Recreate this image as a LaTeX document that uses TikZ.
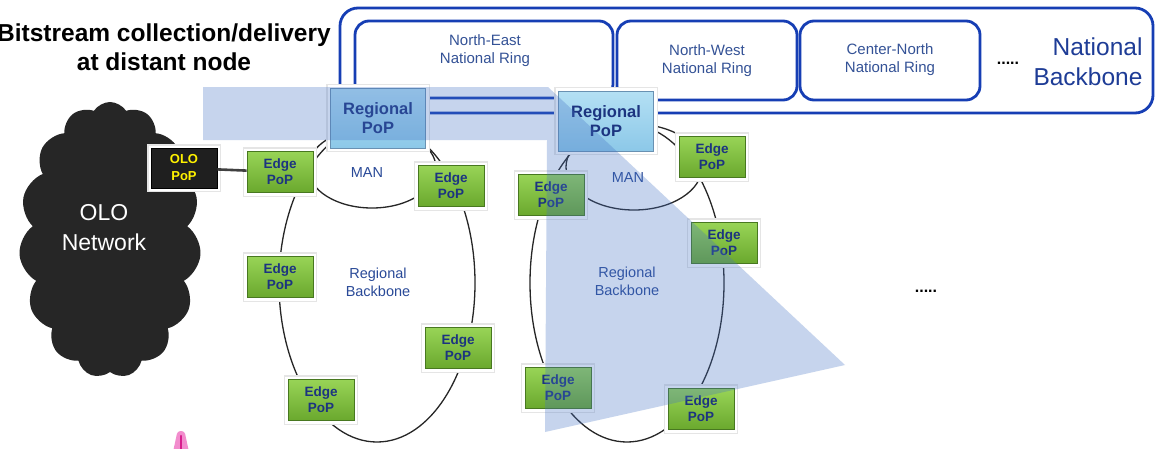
\documentclass[tikz,border=0pt]{standalone}
\usepackage{fontspec}
\setmainfont{Liberation Sans}
\usetikzlibrary{shapes.symbols}

\definecolor{ringblue}{RGB}{22,62,180}
\definecolor{navytext}{RGB}{28,52,128}
\definecolor{labeltext}{RGB}{42,74,152}
\definecolor{ringtext}{RGB}{52,82,150}
\definecolor{bigtext}{RGB}{30,60,150}
\definecolor{edgetop}{RGB}{152,212,86}
\definecolor{edgebot}{RGB}{106,168,46}
\definecolor{edgeline}{RGB}{72,120,32}
\definecolor{poptop}{RGB}{180,224,244}
\definecolor{popbot}{RGB}{140,200,232}
\definecolor{popline}{RGB}{105,145,178}
\definecolor{cloudgray}{RGB}{38,38,38}
\definecolor{linkgray}{RGB}{64,64,64}
\definecolor{focusblue}{RGB}{68,114,196}
\definecolor{pinkcone}{RGB}{242,140,205}
\definecolor{magentacore}{RGB}{215,30,140}

\begin{document}
\begin{tikzpicture}[x=1pt,y=-1pt,
  ringbox/.style={draw=ringblue, line width=2.8pt, rounded corners=14pt},
  ringline/.style={draw=black!85, line width=1.3pt},
  whiteframe/.style={preaction={draw=black!10, line width=#1+2.5pt},
                     preaction={draw=white, line width=#1}},
  edgepop/.style={rectangle, minimum width=66pt, minimum height=41pt, inner sep=0pt,
     whiteframe=6pt,
     top color=edgetop, bottom color=edgebot, draw=edgeline, line width=0.8pt,
     font=\fontsize{13.5}{16}\selectfont\bfseries, text=navytext, align=center},
  regpop/.style={rectangle, minimum width=95pt, minimum height=60pt, inner sep=0pt,
     whiteframe=6pt,
     top color=poptop, bottom color=popbot, draw=popline, line width=0.8pt,
     font=\fontsize{16.5}{19.5}\selectfont\bfseries, text=navytext, align=center},
  olopop/.style={rectangle, minimum width=66pt, minimum height=40pt, inner sep=0pt,
     whiteframe=5pt,
     fill=black!88, draw=black, line width=0.6pt,
     font=\fontsize{13}{17}\selectfont\bfseries, text=yellow, align=center},
  ringlabel/.style={font=\fontsize{15}{18}\selectfont, text=ringtext, align=center},
  netlabel/.style={font=\fontsize{14.5}{18}\selectfont, text=labeltext, align=center},
  dots/.style={font=\fontsize{16}{18}\selectfont\bfseries, text=black}
]
\useasboundingbox (0,0) rectangle (1155,448);
\fill[white] (0,0) rectangle (1155,448);

% heading
\node[font=\fontsize{24.5}{29}\selectfont\bfseries, align=center] (title) at (164,47)
  {Bitstream collection/delivery\\at distant node};

% national backbone and its rings
\draw[ringbox, rounded corners=18pt] (340,8) rectangle (1153,113);
\draw[ringbox] (355,21) rectangle (613,98);
\draw[ringbox] (617,21) rectangle (797,100);
\draw[ringbox] (800,21) rectangle (980,100);
\node[ringlabel] (ne) at (485,51) {North-East\\National Ring};
\node[ringlabel] (nw) at (707,61) {North-West\\National Ring};
\node[ringlabel] (cn) at (890,60) {Center-North\\National Ring};
\node[dots] (natdots) at (1008,63) {.....};
\node[font=\fontsize{24.5}{30}\selectfont, text=bigtext, align=right, anchor=east] (natbb) at (1146,62)
  {National\\Backbone};

% regional rings: backbone and MAN loops
\draw[ringline] (377,283) ellipse [x radius=98, y radius=159];
\draw[ringline] (372,168) ellipse [x radius=64, y radius=40];
\draw[ringline] (627,283) ellipse [x radius=97, y radius=159];
\draw[ringline] (634,167) ellipse [x radius=68, y radius=43];

% other licensed operator network
\node[cloud, cloud puffs=15, cloud puff arc=115, cloud ignores aspect, fill=cloudgray,
      minimum width=182pt, minimum height=276pt] (olonet) at (110,240) {};
\node[font=\fontsize{23}{30}\selectfont, text=white, align=center] (olotext) at (104,228) {OLO\\Network};

% points of presence
\node[olopop] (olo) at (184,168) {OLO\\PoP};
\node[regpop] (rpa) at (378,118) {Regional\\PoP};
\node[regpop] (rpb) at (606,121) {Regional\\PoP};

\node[edgepop] (ea1) at (280,172) {Edge\\PoP};
\node[edgepop] (ea2) at (451,186) {Edge\\PoP};
\node[edgepop] (ea3) at (280,277) {Edge\\PoP};
\node[edgepop] (ea4) at (458,348) {Edge\\PoP};
\node[edgepop] (ea5) at (321,400) {Edge\\PoP};

\node[edgepop] (eb1) at (712,157) {Edge\\PoP};
\node[edgepop] (eb2) at (551,195) {Edge\\PoP};
\node[edgepop] (eb3) at (724,243) {Edge\\PoP};
\node[edgepop] (eb4) at (558,388) {Edge\\PoP};
\node[edgepop] (eb5) at (701,409) {Edge\\PoP};

\draw[linkgray, line width=2.6pt] (olo) -- (ea1);

% ring labels
\node[netlabel] (mana) at (367,173) {MAN};
\node[netlabel] (rba) at (378,282) {Regional\\Backbone};
\node[netlabel] (manb) at (628,178) {MAN};
\node[netlabel] (rbb) at (627,281) {Regional\\Backbone};

% highlighted delivery path
\fill[focusblue, opacity=0.3] (203,87) -- (548,87) -- (845,365) -- (545,432)
  -- (547,140) -- (203,140) -- cycle;

\node[dots] (moredots) at (926,291) {.....};

% antenna tip at the lower edge
\fill[pinkcone, rounded corners=3pt] (173,452) -- (177.5,431) -- (184.5,431) -- (189,452) -- cycle;
\draw[magentacore, line width=2.6pt, line cap=round] (181,436) -- (181,450);
\end{tikzpicture}
\end{document}
